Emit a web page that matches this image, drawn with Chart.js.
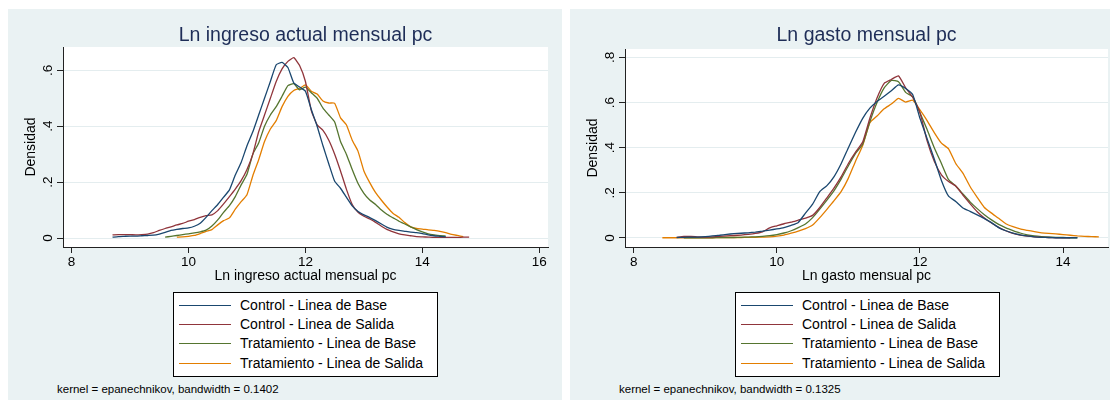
<!DOCTYPE html>
<html>
<head>
<meta charset="utf-8">
<script src="https://cdn.jsdelivr.net/npm/chart.js@4.4.1/dist/chart.umd.min.js"></script>
<style>
  body { margin: 0; background: #fff; width: 1110px; height: 406px; overflow: hidden;
         font-family: "Liberation Sans", Arial, sans-serif; }
  .panel { position: absolute; top: 9px; height: 391px; background: #eaf2f3; overflow: hidden; }
  .panel canvas { position: absolute; left: 0; top: 0; }
  .legend { position: absolute; top: 283px; left: 165px; width: 265px; height: 85px;
            background: #fff; border: 1px solid #000; box-sizing: border-box; }
  .legend .row { position: absolute; left: 0; height: 19px; line-height: 19px; font-size: 14px;
                 color: #000; white-space: nowrap; }
  .legend .swatch { position: absolute; left: 5px; top: 9px; width: 52px; height: 0;
                    border-top: 1.5px solid; }
  .legend .txt { position: absolute; left: 66px; top: 0; }
  .note { position: absolute; left: 49px; top: 373px; font-size: 11.5px; line-height: 14px;
          color: #000; white-space: nowrap; }
</style>
</head>
<body>
<div class="panel" id="p1" style="left:8px; width:554px;">
  <canvas id="c1" width="554" height="281"></canvas>
  <div class="legend" id="l1"></div>
  <div class="note">kernel = epanechnikov, bandwidth = 0.1402</div>
</div>
<div class="panel" id="p2" style="left:570px; width:540px;">
  <canvas id="c2" width="540" height="281"></canvas>
  <div class="legend" id="l2"></div>
  <div class="note">kernel = epanechnikov, bandwidth = 0.1325</div>
</div>
<script>
const seriesNames = ['Control - Linea de Base', 'Control - Linea de Salida',
                     'Tratamiento - Linea de Base', 'Tratamiento - Linea de Salida'];
const seriesColors = ['#1a476f', '#90353b', '#55752f', '#e37e00'];

// Ln ingreso actual mensual pc
const ingresoX = [8.7,8.8,8.9,9.0,9.1,9.2,9.3,9.4,9.5,9.6,
  9.7,9.8,9.9,10.0,10.1,10.2,10.3,10.4,10.5,10.6,
  10.7,10.8,10.9,11.0,11.1,11.2,11.3,11.4,11.5,11.6,
  11.7,11.8,11.9,12.0,12.1,12.2,12.3,12.4,12.5,12.6,
  12.7,12.8,12.9,13.0,13.1,13.2,13.3,13.4,13.5,13.6,
  13.7,13.8,13.9,14.0,14.1,14.2,14.3,14.4,14.5,14.6,
  14.7,14.8];
const ingresoCtrlBase = [0.003,0.005,0.006,0.007,0.007,0.008,0.009,0.010,0.014,0.020,
  0.027,0.031,0.034,0.036,0.042,0.053,0.074,0.098,0.120,0.146,
  0.172,0.225,0.270,0.330,0.380,0.440,0.500,0.560,0.620,0.628,
  0.610,0.555,0.540,0.525,0.460,0.400,0.330,0.265,0.203,0.178,
  0.146,0.115,0.095,0.083,0.073,0.062,0.050,0.038,0.031,0.027,
  0.024,0.021,0.019,0.016,0.011,0.008,0.006,0.004,null,null,
  null,null];
const ingresoCtrlSalida = [0.011,0.012,0.012,0.012,0.011,0.012,0.014,0.019,0.027,0.034,
  0.040,0.047,0.052,0.060,0.066,0.074,0.080,0.083,0.098,0.122,
  0.148,0.175,0.205,0.245,0.300,0.380,0.440,0.500,0.560,0.605,
  0.632,0.645,0.617,0.560,0.456,0.405,0.385,0.350,0.300,0.240,
  0.175,0.120,0.092,0.078,0.068,0.056,0.042,0.030,0.022,0.015,
  0.011,0.008,0.005,0.004,0.003,0.002,0.002,0.002,0.002,0.002,
  0.003,0.003];
const ingresoTratBase = [null,null,null,null,null,null,null,null,null,0.003,
  0.006,0.009,0.012,0.015,0.018,0.022,0.028,0.043,0.065,0.092,
  0.116,0.148,0.190,0.228,0.300,0.340,0.400,0.440,0.470,0.507,
  0.545,0.552,0.530,0.540,0.520,0.500,0.465,0.440,0.415,0.345,
  0.300,0.245,0.195,0.160,0.136,0.120,0.100,0.084,0.072,0.060,
  0.050,0.040,0.030,0.022,0.015,0.011,0.008,0.007,null,null,
  null,null];
const ingresoTratSalida = [null,null,null,null,null,null,null,null,null,null,
  null,0.003,0.004,0.006,0.009,0.016,0.024,0.030,0.047,0.062,
  0.072,0.103,0.130,0.155,0.223,0.280,0.345,0.390,0.420,0.470,
  0.507,0.528,0.535,0.548,0.525,0.515,0.490,0.483,0.482,0.430,
  0.405,0.350,0.310,0.240,0.198,0.162,0.135,0.110,0.088,0.074,
  0.055,0.040,0.034,0.032,0.029,0.027,0.024,0.019,0.013,0.009,
  0.005,null];
const ingresoXTicks = [8, 10, 12, 14, 16];
const ingresoYTicks = [0, 0.2, 0.4, 0.6];

// Ln gasto mensual pc
const gastoX = [8.4,8.5,8.6,8.7,8.8,8.9,9.0,9.1,9.2,9.3,
  9.4,9.5,9.6,9.7,9.8,9.9,10.0,10.1,10.2,10.3,
  10.4,10.5,10.6,10.7,10.8,10.9,11.0,11.1,11.2,11.3,
  11.4,11.5,11.6,11.7,11.8,11.9,12.0,12.1,12.2,12.3,
  12.4,12.5,12.6,12.7,12.8,12.9,13.0,13.1,13.2,13.3,
  13.4,13.5,13.6,13.7,13.8,13.9,14.0,14.1,14.2,14.3,
  14.4,14.5];
const gastoCtrlBase = [null,null,0.002,0.003,0.004,0.004,0.006,0.009,0.012,0.016,
  0.019,0.021,0.023,0.026,0.030,0.035,0.040,0.046,0.056,0.069,
  0.110,0.150,0.205,0.232,0.272,0.330,0.400,0.468,0.530,0.575,
  0.605,0.628,0.652,0.678,0.662,0.634,0.530,0.440,0.350,0.255,
  0.185,0.162,0.133,0.118,0.102,0.086,0.068,0.046,0.032,0.022,
  0.014,0.009,0.005,0.003,0.002,0.001,0.001,0.001,0.001,null,
  null,null];
const gastoCtrlSalida = [null,null,0.003,0.007,0.007,0.005,0.004,0.005,0.007,0.009,
  0.011,0.013,0.016,0.020,0.027,0.045,0.054,0.063,0.070,0.079,
  0.088,0.100,0.135,0.178,0.222,0.272,0.330,0.380,0.425,0.530,
  0.620,0.685,0.702,0.718,0.665,0.622,0.555,0.430,0.340,0.280,
  0.250,0.230,0.190,0.152,0.116,0.088,0.066,0.047,0.032,0.020,
  0.013,0.008,0.005,0.003,0.002,0.001,0.001,0.001,null,null,
  null,null];
const gastoTratBase = [null,null,null,0.001,0.001,0.001,0.001,0.001,0.002,0.002,
  0.002,0.003,0.004,0.005,0.007,0.010,0.015,0.022,0.032,0.046,
  0.062,0.090,0.128,0.168,0.210,0.262,0.320,0.375,0.415,0.515,
  0.600,0.665,0.698,0.692,0.645,0.625,0.555,0.480,0.400,0.330,
  0.258,0.230,0.195,0.160,0.130,0.103,0.080,0.060,0.045,0.033,
  0.022,0.014,0.009,0.006,0.004,0.003,0.002,0.001,0.001,null,
  null,null];
const gastoTratSalida = [0.001,0.001,0.001,0.001,0.001,0.001,0.001,0.001,0.002,0.002,
  0.002,0.002,0.003,0.003,0.004,0.005,0.008,0.013,0.021,0.030,
  0.041,0.057,0.090,0.127,0.165,0.206,0.265,0.340,0.410,0.510,
  0.540,0.572,0.593,0.618,0.602,0.610,0.567,0.520,0.467,0.420,
  0.395,0.330,0.287,0.228,0.180,0.135,0.110,0.087,0.063,0.050,
  0.040,0.034,0.028,0.023,0.020,0.018,0.015,0.012,0.009,0.007,
  0.006,0.005];
const gastoXTicks = [8, 10, 12, 14];
const gastoYTicks = [0, 0.2, 0.4, 0.6, 0.8];

Chart.defaults.font.family = '"Liberation Sans", Arial, sans-serif';

const plotBg = {
  id: 'plotBg',
  beforeDraw(chart) {
    const { ctx, chartArea: a } = chart;
    ctx.save();
    ctx.fillStyle = '#fff';
    ctx.fillRect(a.left, a.top, a.right - a.left, a.bottom - a.top);
    ctx.restore();
  }
};

function yLabel(v) {
  return v === 0 ? '0' : String(v).replace(/^0\./, '.');
}

function makeChart(id, cfg) {
  const datasets = cfg.series.map((ys, i) => ({
    label: seriesNames[i],
    data: cfg.xs.map((x, j) => ({ x: x, y: ys[j] })),
    borderColor: seriesColors[i],
    borderWidth: 1.3,
    pointRadius: 0,
    tension: 0.15,
    fill: false,
    spanGaps: false
  }));

  new Chart(document.getElementById(id), {
    type: 'line',
    data: { datasets: datasets },
    options: {
      responsive: false,
      animation: false,
      devicePixelRatio: 1,
      layout: { padding: { left: 0, top: 0, right: cfg.padRight, bottom: 0 } },
      plugins: {
        legend: { display: false },
        tooltip: { enabled: false },
        title: {
          display: true,
          text: cfg.title,
          fullSize: false,
          color: '#1e2d57',
          font: { size: 19.5, weight: 'normal' },
          padding: { top: 14.6, bottom: cfg.titlePadBottom }
        }
      },
      scales: {
        x: {
          type: 'linear',
          min: cfg.xMin,
          max: cfg.xMax,
          afterBuildTicks: s => { s.ticks = cfg.xTicks.map(v => ({ value: v })); },
          afterFit: s => { s.height = 43; },
          grid: { drawOnChartArea: false, drawTicks: true, tickLength: 6, tickColor: '#222', tickWidth: 1 },
          border: { display: true, color: '#222', width: 1 },
          ticks: { color: '#000', font: { size: 13.5 }, padding: 1, maxRotation: 0, autoSkip: false },
          title: { display: true, text: cfg.title, color: '#000', font: { size: 14 },
                   padding: { top: 0, bottom: 5.6 } }
        },
        y: {
          min: cfg.yMin,
          max: cfg.yMax,
          afterBuildTicks: s => { s.ticks = cfg.yTicks.map(v => ({ value: v })); },
          afterFit: s => { s.width = 55; },
          grid: { color: '#e4edef', lineWidth: 1, tickLength: 6, tickColor: '#222', tickWidth: 1 },
          border: { display: true, color: '#222', width: 1 },
          ticks: { color: '#000', font: { size: 13.5 }, padding: 3.5, minRotation: 90, maxRotation: 90,
                   crossAlign: 'center', autoSkip: false, callback: v => yLabel(v) },
          title: { display: true, text: 'Densidad', color: '#000', font: { size: 14 },
                   padding: { top: 15.1, bottom: 0 } }
        }
      }
    },
    plugins: [plotBg]
  });
}

function makeLegend(id) {
  const box = document.getElementById(id);
  seriesNames.forEach((name, i) => {
    const row = document.createElement('div');
    row.className = 'row';
    row.style.top = (3.2 + 19.1 * i) + 'px';
    row.innerHTML = '<span class="swatch" style="border-color:' + seriesColors[i] + '"></span>' +
                    '<span class="txt">' + name + '</span>';
    box.appendChild(row);
  });
}

makeChart('c1', {
  title: 'Ln ingreso actual mensual pc',
  xs: ingresoX,
  series: [ingresoCtrlBase, ingresoCtrlSalida, ingresoTratBase, ingresoTratSalida],
  xMin: 7.853, xMax: 16.149, yMin: -0.0322, yMax: 0.6834,
  xTicks: ingresoXTicks, yTicks: ingresoYTicks,
  padRight: 14, titlePadBottom: 0
});
makeChart('c2', {
  title: 'Ln gasto mensual pc',
  xs: gastoX,
  series: [gastoCtrlBase, gastoCtrlSalida, gastoTratBase, gastoTratSalida],
  xMin: 7.878, xMax: 14.628, yMin: -0.040, yMax: 0.837,
  xTicks: gastoXTicks, yTicks: gastoYTicks,
  padRight: 2, titlePadBottom: 2
});
makeLegend('l1');
makeLegend('l2');
</script>
</body>
</html>
